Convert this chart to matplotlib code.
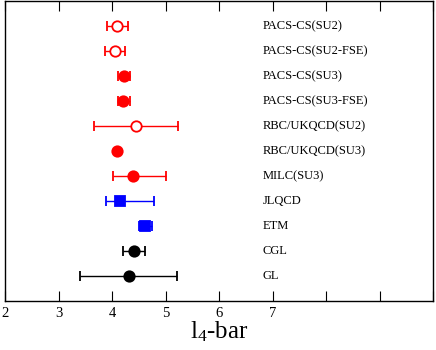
import matplotlib
matplotlib.use("Agg")
import matplotlib.pyplot as plt

labels = ["PACS-CS(SU2)", "PACS-CS(SU2-FSE)", "PACS-CS(SU3)", "PACS-CS(SU3-FSE)",
          "RBC/UKQCD(SU2)", "RBC/UKQCD(SU3)", "MILC(SU3)", "JLQCD", "ETM", "CGL", "GL"]
values = [4.10, 4.05, 4.22, 4.21, 4.44, 4.10, 4.40, 4.15, 4.62, 4.41, 4.31]
err_lo = [0.20, 0.19, 0.10, 0.10, 0.77, 0.0, 0.39, 0.26, 0.12, 0.20, 0.90]
err_hi = [0.20, 0.20, 0.12, 0.12, 0.79, 0.0, 0.61, 0.64, 0.13, 0.20, 0.90]
colors = ["red"] * 7 + ["blue"] * 2 + ["black"] * 2
markers = ["o"] * 7 + ["s"] * 2 + ["o"] * 2
filled = [False, False, True, True, False, True, True, True, True, True, True]

plt.rcParams['font.family'] = ['Liberation Serif', 'DejaVu Serif']
plt.rcParams['mathtext.fontset'] = 'custom'
plt.rcParams['mathtext.rm'] = 'Liberation Serif'
plt.rcParams['mathtext.it'] = 'Liberation Serif'

fig = plt.figure(figsize=(4.36, 3.5), dpi=100)
ax = fig.add_axes([5/436, 1 - 301/350, 428/436, 300/350])

n = len(labels)
for i in range(n):
    y = n - i
    c = colors[i]
    ms = 7.5 if markers[i] == "o" else 6.5
    ax.errorbar(values[i], y, xerr=[[err_lo[i]], [err_hi[i]]], fmt=markers[i],
                color=c, ecolor=c, elinewidth=1.0, capsize=3.3, capthick=1.0,
                markersize=ms, markerfacecolor=(c if filled[i] else "white"),
                markeredgecolor=c, markeredgewidth=1.3)
    ax.text(6.82, y, labels[i], fontsize=9, va="center", ha="left")

ax.set_xlim(2, 10)
ax.set_ylim(0.0, 12.0)
ax.set_xticks(range(2, 11))
ax.set_xticklabels(["2", "3", "4", "5", "6", "7", "", "", ""], fontsize=10.5)
ax.set_yticks([])
ax.tick_params(axis="x", direction="in", top=True, length=7, width=0.8, pad=4)
ax.set_xlabel(r"l$_{\mathrm{4}}$-bar", fontsize=18, labelpad=0)
for s in ax.spines.values():
    s.set_linewidth(1.0)

fig.savefig("out.png", dpi=100)
